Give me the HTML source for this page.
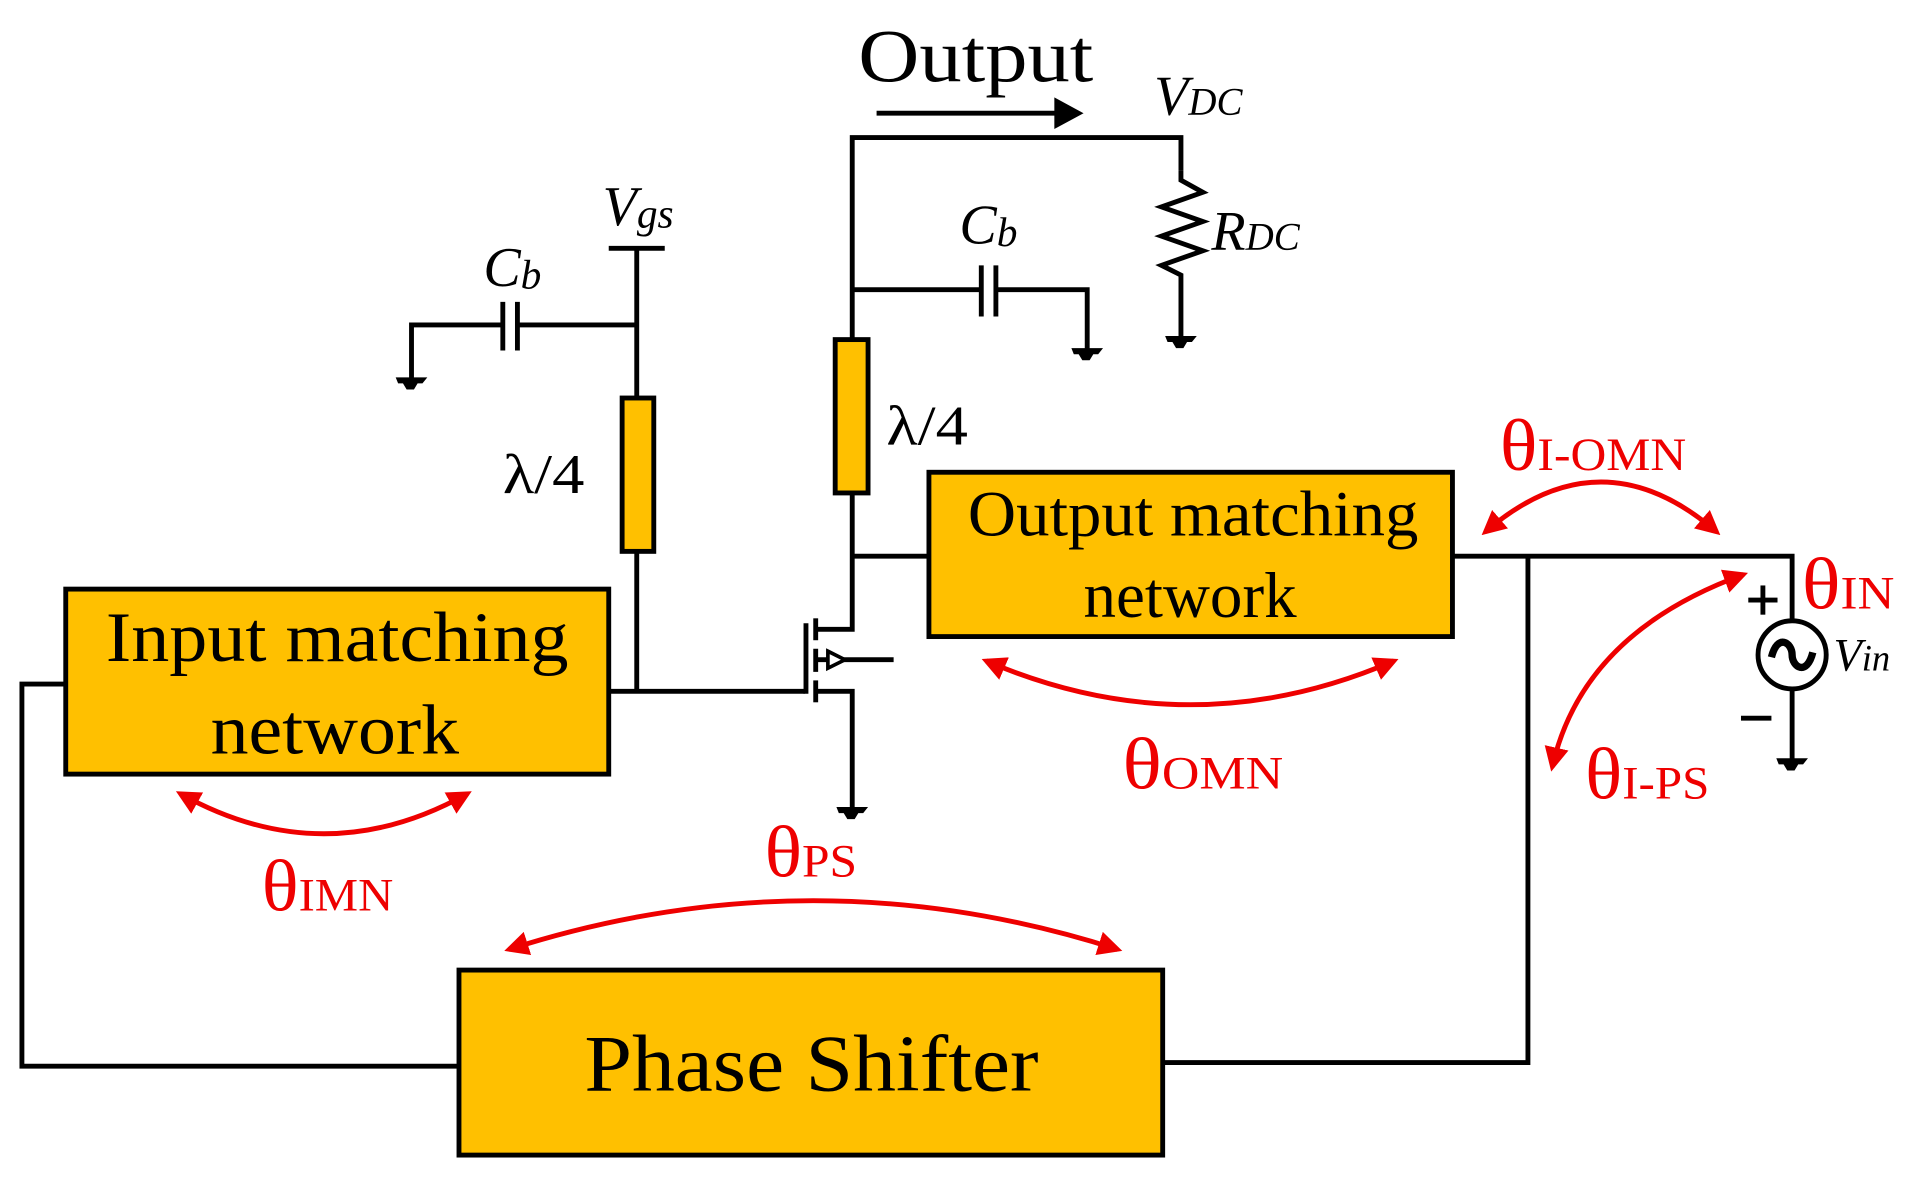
<!DOCTYPE html>
<html><head><meta charset="utf-8"><style>
html,body{margin:0;padding:0;background:#fff;}
svg{display:block;}
text{font-family:"Liberation Serif",serif;}
</style></head><body>
<svg width="1909" height="1177" viewBox="0 0 1568 967" preserveAspectRatio="none" xmlns="http://www.w3.org/2000/svg">
<defs>
<marker id="ah" viewBox="0 0 10 10" refX="8" refY="5" markerWidth="5" markerHeight="5" orient="auto-start-reverse" markerUnits="strokeWidth">
<path d="M0,0 L10,5 L0,10 z" fill="#e00"/></marker>
<path id="gnd" d="M-13,0 h26 l-4,5 h-4 l-3,5 h-6 l-3,-5 h-4 z" fill="#000"/>
</defs>
<g stroke="#000" stroke-width="4" fill="none">
<polyline points="54,562 18,562 18,876 377,876"/>
<polyline points="955,873 1255,873 1255,457"/>
<polyline points="1193,457 1472,457 1472,510"/>
<line x1="1472" y1="566" x2="1472" y2="625"/>
<line x1="500" y1="568" x2="661" y2="568"/>
<line x1="523" y1="568" x2="523" y2="204"/>
<line x1="500" y1="204" x2="546" y2="204"/>
<line x1="523" y1="267" x2="425" y2="267"/>
<polyline points="413,267 338,267 338,312"/>
<line x1="413" y1="248" x2="413" y2="288"/>
<line x1="425" y1="248" x2="425" y2="288"/>
<line x1="662" y1="512" x2="662" y2="570"/>
<line x1="670" y1="508" x2="670" y2="526"/>
<line x1="670" y1="533" x2="670" y2="552"/>
<line x1="670" y1="559" x2="670" y2="577"/>
<polyline points="670,517 700,517 700,113 970,113 970,140"/>
<polyline points="670,568 700,568 700,665"/>
<line x1="670" y1="542" x2="734" y2="542"/>
<line x1="700" y1="457" x2="763" y2="457"/>
<line x1="700" y1="238" x2="806" y2="238"/>
<polyline points="818,238 893,238 893,290"/>
<line x1="806" y1="218" x2="806" y2="260"/>
<line x1="818" y1="218" x2="818" y2="260"/>
<polyline points="970,140 970,148 988,158 954,170 988,182 954,194 988,206 954,218 970,226 970,280"/>
<circle cx="1472" cy="538" r="28"/>
<path d="M1455,540 C1460,520 1472,528 1472,538 C1472,548 1484,556 1489,536" stroke-width="6"/>
<line x1="1436" y1="493" x2="1460" y2="493"/><line x1="1448" y1="481" x2="1448" y2="505"/>
<line x1="1430" y1="590" x2="1455" y2="590"/>
<line x1="720" y1="93" x2="872" y2="93"/>
</g>
<polygon points="680,535 694,542 680,549" fill="#fff" stroke="#000" stroke-width="3"/>
<polygon points="866,80 890,93 866,106" fill="#000"/>
<use href="#gnd" x="338" y="310"/><use href="#gnd" x="700" y="663"/>
<use href="#gnd" x="893" y="286"/><use href="#gnd" x="970" y="276"/>
<use href="#gnd" x="1472" y="623"/>
<rect x="511" y="327" width="26" height="126" fill="#FFC000" stroke="#000" stroke-width="4"/>
<rect x="686" y="279" width="27" height="126" fill="#FFC000" stroke="#000" stroke-width="4"/>
<rect x="54" y="484" width="446" height="152" fill="#FFC000" stroke="#000" stroke-width="4"/>
<rect x="763" y="388" width="430" height="135" fill="#FFC000" stroke="#000" stroke-width="4"/>
<rect x="377" y="797" width="578" height="152" fill="#FFC000" stroke="#000" stroke-width="4"/>
<g font-size="58" fill="#000" lengthAdjust="spacingAndGlyphs">
<text x="87" y="543" textLength="380" lengthAdjust="spacingAndGlyphs">Input matching</text>
<text x="173" y="619" textLength="204" lengthAdjust="spacingAndGlyphs">network</text>
<text x="795" y="440" font-size="53" textLength="370" lengthAdjust="spacingAndGlyphs">Output matching</text>
<text x="890" y="507" font-size="53" textLength="175" lengthAdjust="spacingAndGlyphs">network</text>
<text x="480" y="896" font-size="66" textLength="373" lengthAdjust="spacingAndGlyphs">Phase Shifter</text>
</g>
<g fill="#000">
<text x="705" y="67" font-size="62" textLength="193" lengthAdjust="spacingAndGlyphs">Output</text>
<text x="948" y="94" font-size="46" font-style="italic">V<tspan font-size="32">DC</tspan></text>
<text x="995" y="205" font-size="46" font-style="italic">R<tspan font-size="32">DC</tspan></text>
<text x="788" y="200" font-size="46" font-style="italic">C<tspan font-size="34" dy="2">b</tspan></text>
<text x="397" y="235" font-size="46" font-style="italic">C<tspan font-size="34" dy="2">b</tspan></text>
<text x="495" y="185" font-size="46" font-style="italic">V<tspan font-size="34" dy="2">gs</tspan></text>
<text x="413" y="405" font-size="46" textLength="67" lengthAdjust="spacingAndGlyphs">λ/4</text>
<text x="728" y="365" font-size="46" textLength="67" lengthAdjust="spacingAndGlyphs">λ/4</text>
<text x="1506" y="551" font-size="38" font-style="italic">V<tspan font-size="30">in</tspan></text>
</g>
<g stroke="#e00" stroke-width="4" fill="none" marker-start="url(#ah)" marker-end="url(#ah)">
<path d="M148,652 Q266,718 384,652"/>
<path d="M810,543 Q978,615 1145,543"/>
<path d="M418,780 Q668,700 918,780"/>
<path d="M1220,437 Q1315,355 1410,437"/>
<path d="M1432,472 Q1300,520 1275,630"/>
</g>
<g fill="#e00" font-size="60">
<text x="215" y="748" textLength="108" lengthAdjust="spacingAndGlyphs">θ<tspan font-size="38">IMN</tspan></text>
<text x="922" y="648" textLength="132" lengthAdjust="spacingAndGlyphs">θ<tspan font-size="38">OMN</tspan></text>
<text x="628" y="720" textLength="76" lengthAdjust="spacingAndGlyphs">θ<tspan font-size="38">PS</tspan></text>
<text x="1232" y="386" textLength="153" lengthAdjust="spacingAndGlyphs">θ<tspan font-size="38">I-OMN</tspan></text>
<text x="1480" y="500" textLength="76" lengthAdjust="spacingAndGlyphs">θ<tspan font-size="38">IN</tspan></text>
<text x="1302" y="656" textLength="102" lengthAdjust="spacingAndGlyphs">θ<tspan font-size="38">I-PS</tspan></text>
</g>
</svg>
</body></html>
